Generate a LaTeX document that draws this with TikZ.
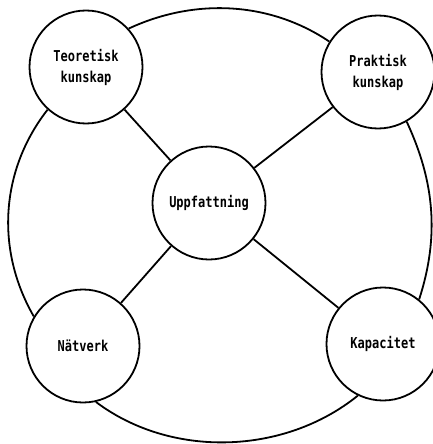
\documentclass[tikz,border=0pt]{standalone}
\usepackage{fontspec}
\newfontfamily\dfont[FakeStretch=0.8]{DejaVu Sans Mono}
\begin{document}
\begin{tikzpicture}[x=1pt,y=-1pt,
  ball/.style={circle,draw,line width=1.8pt,minimum size=113pt,inner sep=0pt,
    align=center,font=\dfont\bfseries\fontsize{15}{21}\selectfont},
  link/.style={line width=1.8pt}]
\useasboundingbox (0,0) rectangle (433,444);
\node[ball] (tl) at (86,67) {Teoretisk\\kunskap};
\node[ball] (tr) at (378,72) {Praktisk\\kunskap};
\node[ball] (c) at (209,203) {Uppfattning};
\node[ball] (bl) at (83,346) {Nätverk};
\node[ball] (br) at (383,344) {Kapacitet};
\draw[link] (tl) -- (c);
\draw[link] (tr) -- (c);
\draw[link] (bl) -- (c);
\draw[link] (br) -- (c);
\draw[link] (tl.42) to[out=25,in=146,looseness=0.92] (tr.148);
\draw[link] (tl.228) to[out=232,in=120,looseness=0.95] (bl.149);
\draw[link] (tr.-60) to[out=-65,in=72,looseness=0.95] (br.51);
\draw[link] (bl.-77) to[out=-37,in=219,looseness=0.92] (br.244);
\end{tikzpicture}
\end{document}
